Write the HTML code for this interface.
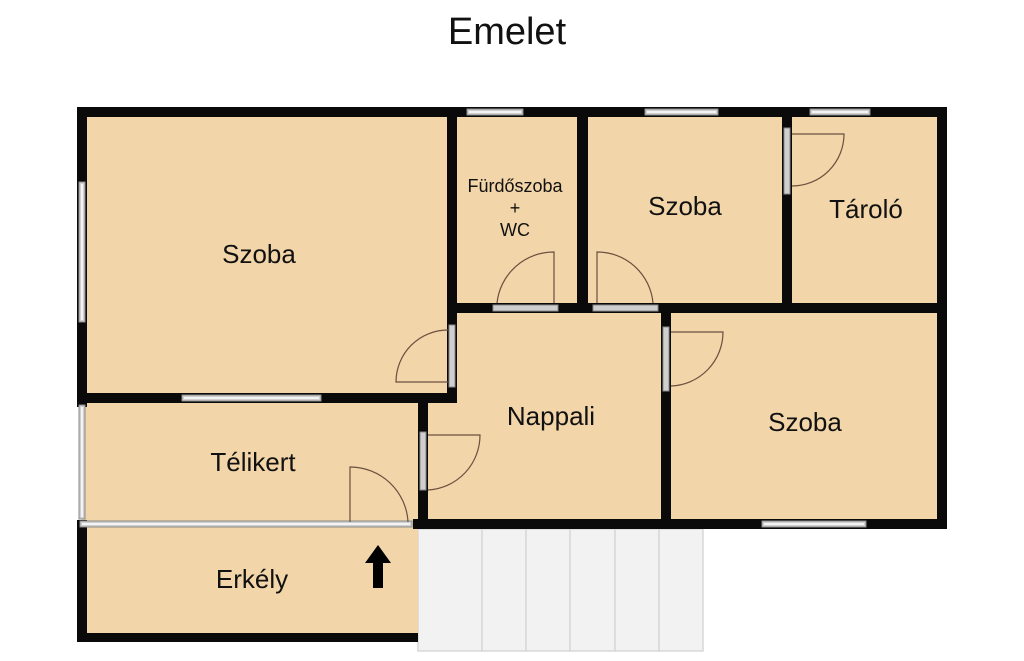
<!DOCTYPE html>
<html><head><meta charset="utf-8"><style>
html,body{margin:0;padding:0;background:#fff;width:1024px;height:661px;overflow:hidden}
text{font-family:"Liberation Sans",sans-serif;fill:#111}
</style></head><body>
<svg width="1024" height="661" viewBox="0 0 1024 661" xmlns="http://www.w3.org/2000/svg">
<text x="507" y="44" font-size="38" text-anchor="middle">Emelet</text>
<!-- stairs -->
<g fill="#f2f2f2" stroke="#d8d8d8" stroke-width="1.5">
<rect x="418" y="529" width="64" height="122"/>
<rect x="482" y="529" width="44" height="122"/>
<rect x="526" y="529" width="44" height="122"/>
<rect x="570" y="529" width="45" height="122"/>
<rect x="615" y="529" width="44" height="122"/>
<rect x="659" y="529" width="44" height="122"/>
</g>
<!-- floors -->
<g fill="#f2d5a8">
<rect x="82" y="112" width="860" height="412"/>
<rect x="82" y="520" width="336" height="118"/>
</g>
<!-- walls -->
<g fill="#0a0a0a">
<rect x="77" y="107" width="870" height="10"/>
<rect x="77" y="107" width="10" height="300"/>
<rect x="77" y="520" width="10" height="122"/>
<rect x="77" y="633" width="341" height="9"/>
<rect x="937" y="107" width="10" height="422"/>
<rect x="413" y="519" width="534" height="10"/>
<rect x="447" y="107" width="10" height="296"/>
<rect x="77" y="393" width="380" height="10"/>
<rect x="418" y="403" width="10" height="126"/>
<rect x="447" y="303" width="224" height="10"/>
<rect x="577" y="107" width="11" height="206"/>
<rect x="782" y="107" width="10" height="206"/>
<rect x="658" y="303" width="289" height="10"/>
<rect x="661" y="303" width="10" height="226"/>
</g>
<!-- windows / door openings -->
<g fill="#cfcfcf" stroke="#8a8a8a" stroke-width="1">
<rect x="79" y="182" width="6" height="140"/>
<rect x="79" y="405" width="6" height="114"/>
<rect x="182" y="395" width="139" height="6"/>
<rect x="467" y="109" width="56" height="6"/>
<rect x="645" y="109" width="73" height="6"/>
<rect x="810" y="109" width="60" height="6"/>
<rect x="762" y="521" width="104" height="6"/>
<rect x="80" y="521" width="332" height="6"/>
<rect x="449" y="325" width="6" height="62"/>
<rect x="420" y="432" width="6" height="58"/>
<rect x="493" y="305" width="65" height="6"/>
<rect x="593" y="305" width="65" height="6"/>
<rect x="784" y="128" width="6" height="66"/>
<rect x="663" y="327" width="6" height="64"/>
</g>
<g stroke="#fff" stroke-width="1.5">
<line x1="82" y1="184" x2="82" y2="320"/><line x1="82" y1="407" x2="82" y2="517"/>
<line x1="184" y1="398" x2="319" y2="398"/><line x1="469" y1="112" x2="521" y2="112"/>
<line x1="647" y1="112" x2="716" y2="112"/><line x1="812" y1="112" x2="868" y2="112"/>
<line x1="764" y1="524" x2="864" y2="524"/><line x1="82" y1="524" x2="410" y2="524"/>
</g>
<!-- doors -->
<g fill="none" stroke="#6b5040" stroke-width="1.2">
<path d="M448 382 L396 382 A52 52 0 0 1 448 330"/>
<path d="M428 435 L480 435 A55 55 0 0 1 428 490"/>
<path d="M350 522 L350 467 A58 58 0 0 1 408 522"/>
<path d="M554 303 L554 252 A57 57 0 0 0 497 303"/>
<path d="M597 303 L597 252 A56 56 0 0 1 653 303"/>
<path d="M792 134 L844 134 A52 52 0 0 1 792 186"/>
<path d="M671 332 L723 332 A54 54 0 0 1 671 386"/>
</g>
<!-- arrow -->
<path d="M373 588 L383 588 L383 563 L391 563 L378 545 L365 563 L373 563 Z" fill="#000"/>
<!-- labels -->
<g text-anchor="middle" font-size="26">
<text x="259" y="263">Szoba</text>
<text x="685" y="215">Szoba</text>
<text x="866" y="218">Tároló</text>
<text x="551" y="425">Nappali</text>
<text x="805" y="431">Szoba</text>
<text x="253" y="471">Télikert</text>
<text x="252" y="588">Erkély</text>
</g>
<g text-anchor="middle" font-size="18">
<text x="515" y="192">Fürdőszoba</text>
<text x="515" y="214">+</text>
<text x="515" y="236">WC</text>
</g>
</svg>
</body></html>
